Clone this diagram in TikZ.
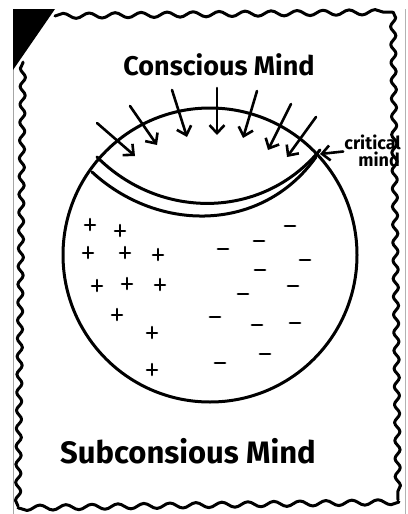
\documentclass[tikz,border=0pt]{standalone}
\usepackage{fontspec}
\setmainfont{Fira Sans}
\usetikzlibrary{arrows.meta,decorations.pathmorphing}
\tikzset{
  ink/.style={line width=3pt, line cap=round, line join=round},
  wavy/.style={ink, decorate, decoration={snake, segment length=#1, amplitude=2.6pt}},
  wavy/.default=24pt,
  inarrow/.style={line width=2.6pt, line cap=round, -{Straight Barb[length=8pt,width=15pt,line width=2.6pt]}},
  plussign/.pic={\draw[line width=2.6pt, line cap=round] (-5,0)--(5,0) (0,-6)--(0,5);},
  minussign/.pic={\draw[line width=2.8pt, line cap=round] (-5,0)--(5,0);},
  label/.style={inner sep=0pt, text=black}
}
\begin{document}
\begin{tikzpicture}[x=1pt,y=-1pt]
\useasboundingbox (0,0) rectangle (407,514);
\fill[white] (0,0) rectangle (407,514);
% page edges
\draw[gray!70, line width=1pt] (13,9) -- (13,514);
\draw[gray!60, line width=1pt] (405,9) -- (405,514);
\fill[black] (13,9) -- (55,9) -- (13,70) -- cycle;
% wavy border
\draw[wavy=26pt] (55,16) -- (392,12);
\draw[wavy=18pt] (393,12) -- (398,500);
\draw[wavy=26pt] (399,502) -- (18,508);
\draw[wavy=18pt] (18,506) -- (23,62);
% circle
\draw[ink] (210,255) circle[radius=147];
% critical band
\draw[ink] (97,157) .. controls (160,220) and (262,220) .. (320,150);
\draw[ink] (92,172) .. controls (158,233) and (262,233) .. (316,157);
% arrows from conscious mind
\coordinate (a1s) at (97,123);  \coordinate (a1e) at (135,156);
\coordinate (a2s) at (130,106); \coordinate (a2e) at (157,145);
\coordinate (a3s) at (172,90);  \coordinate (a3e) at (187,137);
\coordinate (a4s) at (217,88);  \coordinate (a4e) at (217,135);
\coordinate (a5s) at (257,91);  \coordinate (a5e) at (243,138);
\coordinate (a6s) at (291,104); \coordinate (a6e) at (268,150);
\coordinate (a7s) at (316,117); \coordinate (a7e) at (287,157);
\foreach \i in {1,...,7} \draw[inarrow] (a\i s) -- (a\i e);
% texts
\node[label, anchor=base, font=\fontsize{27}{27}\bfseries\selectfont] (conscious) at (219,75) {Conscious Mind};
\node[label, anchor=base, font=\fontsize{31}{31}\bfseries\selectfont] (subconscious) at (188,463) {Subconsious Mind};
\node[label, anchor=base east, font=\fontsize{18}{18}\bfseries\selectfont] (crit1) at (401,149) {critical};
\node[label, anchor=base east, font=\fontsize{18}{18}\bfseries\selectfont] (crit2) at (400,166) {mind};
\coordinate (critpt) at (320,154);
\path (crit1.south west) ++(-1,2) coordinate (critfrom);
\draw[inarrow] (critfrom) -- (critpt);
% plus signs
\foreach \p in {(90,225),(120,231),(88,253),(125,253),(158,255),(97,286),(127,284),(160,285),(117,315),(152,333),(152,370)}
  \pic at \p {plussign};
% minus signs
\foreach \p in {(290,226),(259,241),(223,249),(305,260),(260,270),(293,286),(243,294),(215,317),(257,325),(295,323),(265,354),(220,363)}
  \pic at \p {minussign};
\end{tikzpicture}
\end{document}
